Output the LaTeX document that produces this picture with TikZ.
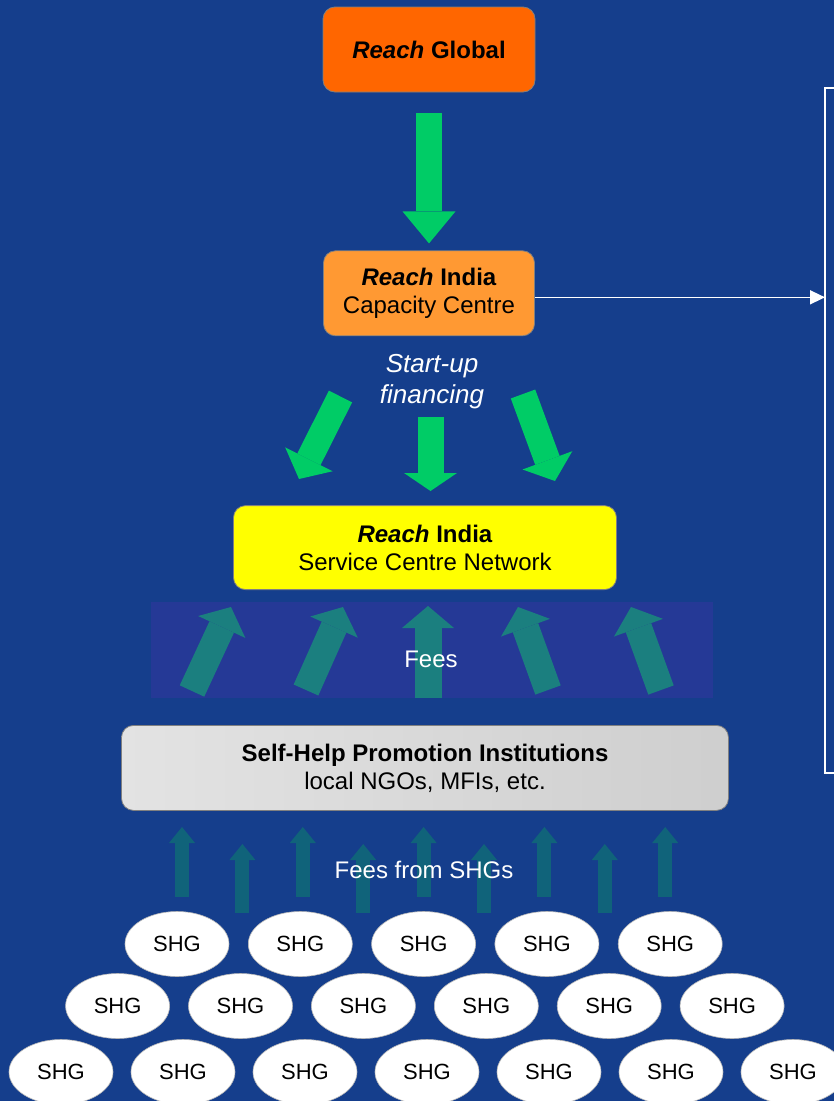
\documentclass[tikz,border=0pt]{standalone}
\usepackage{fontspec}
\setmainfont{Liberation Sans}
\usepackage{xcolor}
\usepackage{tikz}
\usetikzlibrary{arrows.meta, positioning, calc, shapes.geometric}
\definecolor{bgblue}{RGB}{21, 62, 140}
\definecolor{bandblue}{RGB}{37, 57, 150}
\definecolor{globalorange}{RGB}{255, 102, 0}
\definecolor{indiaorange}{RGB}{255, 153, 51}
\definecolor{netyellow}{RGB}{255, 255, 0}
\definecolor{flowgreen}{RGB}{0, 204, 102}
\definecolor{feeteal}{RGB}{27, 127, 127}
\definecolor{shgteal}{RGB}{16, 99, 122}

\begin{document}
\begin{tikzpicture}[
    x=1pt, y=-1pt,
    box/.style={rectangle, draw=gray, line width=0.8pt, rounded corners=12pt, inner sep=0pt, minimum height=85pt, align=center, font=\fontsize{24}{28}\selectfont},
    globalbox/.style={box, fill=globalorange, minimum width=212pt},
    capbox/.style={box, fill=indiaorange, minimum width=211pt},
    netbox/.style={box, fill=netyellow, minimum width=383pt, minimum height=84pt},
    shpbox/.style={box, left color=gray!22, middle color=gray!3, right color=gray!38, minimum width=607pt},
    shg/.style={ellipse, draw=gray!55, fill=white, line width=0.6pt, minimum width=104pt, minimum height=65pt, inner sep=0pt, font=\fontsize{22}{26}\selectfont},
    greenarrow/.style={line width=26pt, draw=flowgreen, -{Triangle[length=#1, width=53pt, line width=0pt]}},
    greenarrow/.default=22pt,
    feearrow/.style={line width=27pt, draw=feeteal, -{Triangle[length=22pt, width=52pt, line width=0pt]}},
    smallarrow/.style={line width=14pt, draw=shgteal, -{Triangle[length=16pt, width=26pt, line width=0pt]}},
    linkarrow/.style={draw=white, line width=1.5pt, -{Triangle[length=15pt, width=14pt]}},
    whitetext/.style={font=\fontsize{24}{28}\selectfont, white, align=center}
]

% Page
\useasboundingbox (0,0) rectangle (834,1101);
\clip (0,0) rectangle (834,1101);
\fill[bgblue] (0,0) rectangle (834,1101);

% Main column
\node[globalbox] (global) at (429,49.5) {\textbf{\textit{Reach} Global}};
\node[capbox, below=158pt of global] (cap) {\textbf{\textit{Reach} India}\\Capacity Centre};
\node[netbox, below=169pt of cap, xshift=-4pt] (net) {\textbf{\textit{Reach} India}\\Service Centre Network};
\node[shpbox, below=135pt of net] (shp) {\textbf{Self-Help Promotion Institutions}\\local NGOs, MFIs, etc.};

% Fees band
\node[fill=bandblue, minimum width=562pt, minimum height=96pt, inner sep=0pt] (band) at (432,650) {};

% Start-up financing
\node[whitetext, font=\itshape\fontsize{26}{31}\selectfont] (startup) at (432,382) {Start-up\\financing};
\draw[greenarrow=32pt, shorten <=21pt, shorten >=7pt] (global.south) -- (cap.north);
\coordinate (fin1s) at (340.5,396.5);
\coordinate (fin1e) at (299,479);
\coordinate (fin2s) at (430.5,417);
\coordinate (fin2e) at (430.5,491);
\coordinate (fin3s) at (523,394);
\coordinate (fin3e) at (555,481);
\draw[greenarrow] (fin1s) -- (fin1e);
\draw[greenarrow=18pt] (fin2s) -- (fin2e);
\draw[greenarrow] (fin3s) -- (fin3e);

% Fees to service centres
\foreach \tx/\ty/\hx/\hy in {192/691/231/607, 306/690/343/607, 428/698/428/606, 548/690/518/607, 661/690/631/607} {
  \path (\tx,\ty) coordinate (feetail) (\hx,\hy) coordinate (feetip);
  \draw[feearrow] (feetail) -- (feetip);
}
\node[whitetext] (fees) at (431,659) {Fees};

% Fees from SHGs
\foreach \i in {0,...,8} {
  \pgfmathsetmacro{\sx}{182+60.4*\i}
  \pgfmathsetmacro{\tipy}{isodd(\i) ? 844 : 827}
  \pgfmathsetmacro{\taily}{isodd(\i) ? 913 : 897}
  \path (\sx,\taily) coordinate (shgtail) (\sx,\tipy) coordinate (shgtip);
  \draw[smallarrow] (shgtail) -- (shgtip);
}
\node[whitetext] (feesshg) at (424,870) {Fees from SHGs};

% SHGs
\foreach \i in {0,...,4} \node[shg] (shga\i) at ({177+123.3*\i},944) {SHG};
\foreach \i in {0,...,5} \node[shg] (shgb\i) at ({117.6+122.9*\i},1006) {SHG};
\foreach \i in {0,...,6} \node[shg] (shgc\i) at ({61+122*\i},1072) {SHG};

% Bracket on the right
\coordinate (brtop) at (825,88);
\coordinate (brbot) at (825,773);
\draw[white, line width=1.5pt] (brtop) ++(12,0) -- (brtop) -- (brbot) -- ++(12,0);
\coordinate (linkstart) at ([yshift=-4pt]cap.east);
\draw[linkarrow] (linkstart) -- (linkstart -| brtop);

\end{tikzpicture}
\end{document}
